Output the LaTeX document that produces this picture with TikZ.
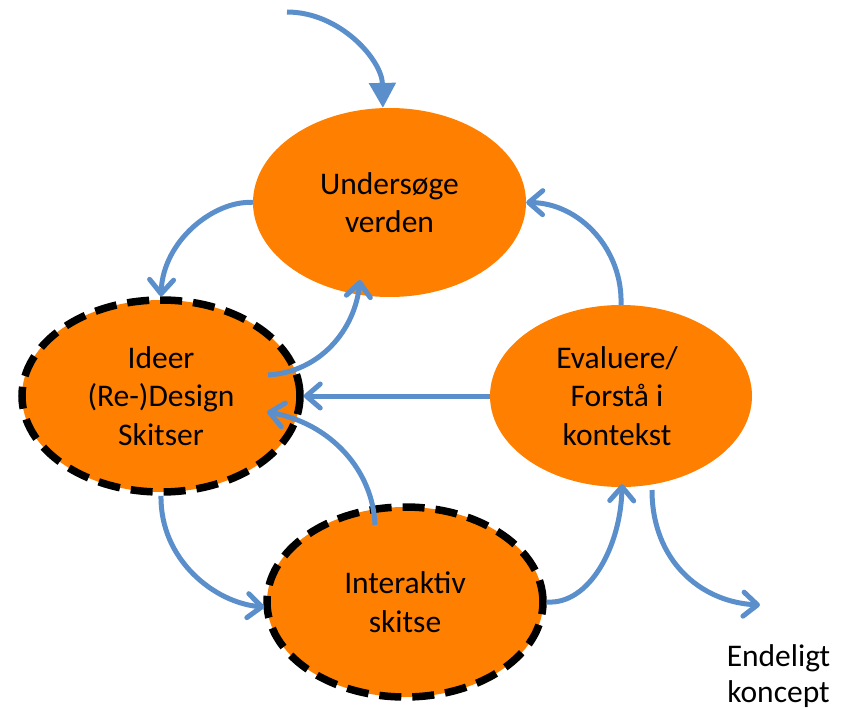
\documentclass[tikz,border=0pt]{standalone}
\usepackage{fontspec}
\setmainfont{Carlito}
\usetikzlibrary{arrows.meta,shapes.geometric,calc}
\definecolor{cyorange}{RGB}{255,128,0}
\definecolor{cyblue}{RGB}{90,143,203}
\tikzset{
  phase/.style={ellipse, fill=cyorange, inner sep=0pt, align=center,
    font=\fontsize{31.5}{38.5}\selectfont},
  dashring/.style={draw=black, line width=7.5pt, dash pattern=on 22pt off 11pt},
  flow/.style={draw=cyblue, line width=5pt,
    -{Straight Barb[length=14pt,width=24pt,line cap=round,line join=round]}},
  inflow/.style={draw=cyblue, line width=5pt, -{Triangle[length=25pt,width=26pt]}},
  lbl/.style={align=center, font=\fontsize{31.5}{36}\selectfont}
}
\begin{document}
\begin{tikzpicture}[x=1pt,y=-1pt]
\path[use as bounding box] (0,0) rectangle (852,709);

\node[phase, minimum width=273pt, minimum height=189pt] (U) at (389.5,202.5) {Undersøge\\verden};
\node[phase, dashring, minimum width=278pt, minimum height=192pt] (I) at (161,396) {Ideer\\(Re-)Design\\Skitser};
\node[phase, minimum width=262pt, minimum height=182pt] (E) at (621,396) {\hspace*{-8pt}Evaluere/\\\hspace*{-8pt}Forstå i\\\hspace*{-8pt}kontekst};
\node[phase, dashring, minimum width=276pt, minimum height=190pt] (K) at (405,602) {Interaktiv\\skitse};
\node[lbl] (F) at (778.5,676) {Endeligt\\koncept};

\coordinate (start) at (287,12);
\coordinate (out) at (760,605);

% incoming
\draw[inflow] (start) .. controls (340,12) and (382,60) .. (U.94);
% U -> I
\draw[flow] (U.west) .. controls (215,200) and (163,240) .. (I.north);
% I -> U
\draw[flow] ($(I.center)+(107,-21)$) .. controls (320,372) and (355,330) .. ($(U.center)+(-29.5,77.5)$);
% E -> U
\draw[flow] (E.north) .. controls (623,250) and (580,203) .. (U.east);
% E -> I
\draw[flow] (E.west) -- (I.east);
% K -> I
\draw[flow] ($(K.center)+(-30,-77)$) .. controls (373,470) and (330,423) .. ($(I.center)+(106,16)$);
% I -> K
\draw[flow] (I.south) .. controls (160,560) and (215,603) .. ($(K.west)+(1,5)$);
% K -> E
\draw[flow] (K.east) .. controls (590,605) and (621,545) .. ($(E.south)+(1,-3)$);
% E -> out
\draw[flow] ($(E.center)+(31,94)$) .. controls (652,560) and (700,602) .. (out);
\end{tikzpicture}
\end{document}
